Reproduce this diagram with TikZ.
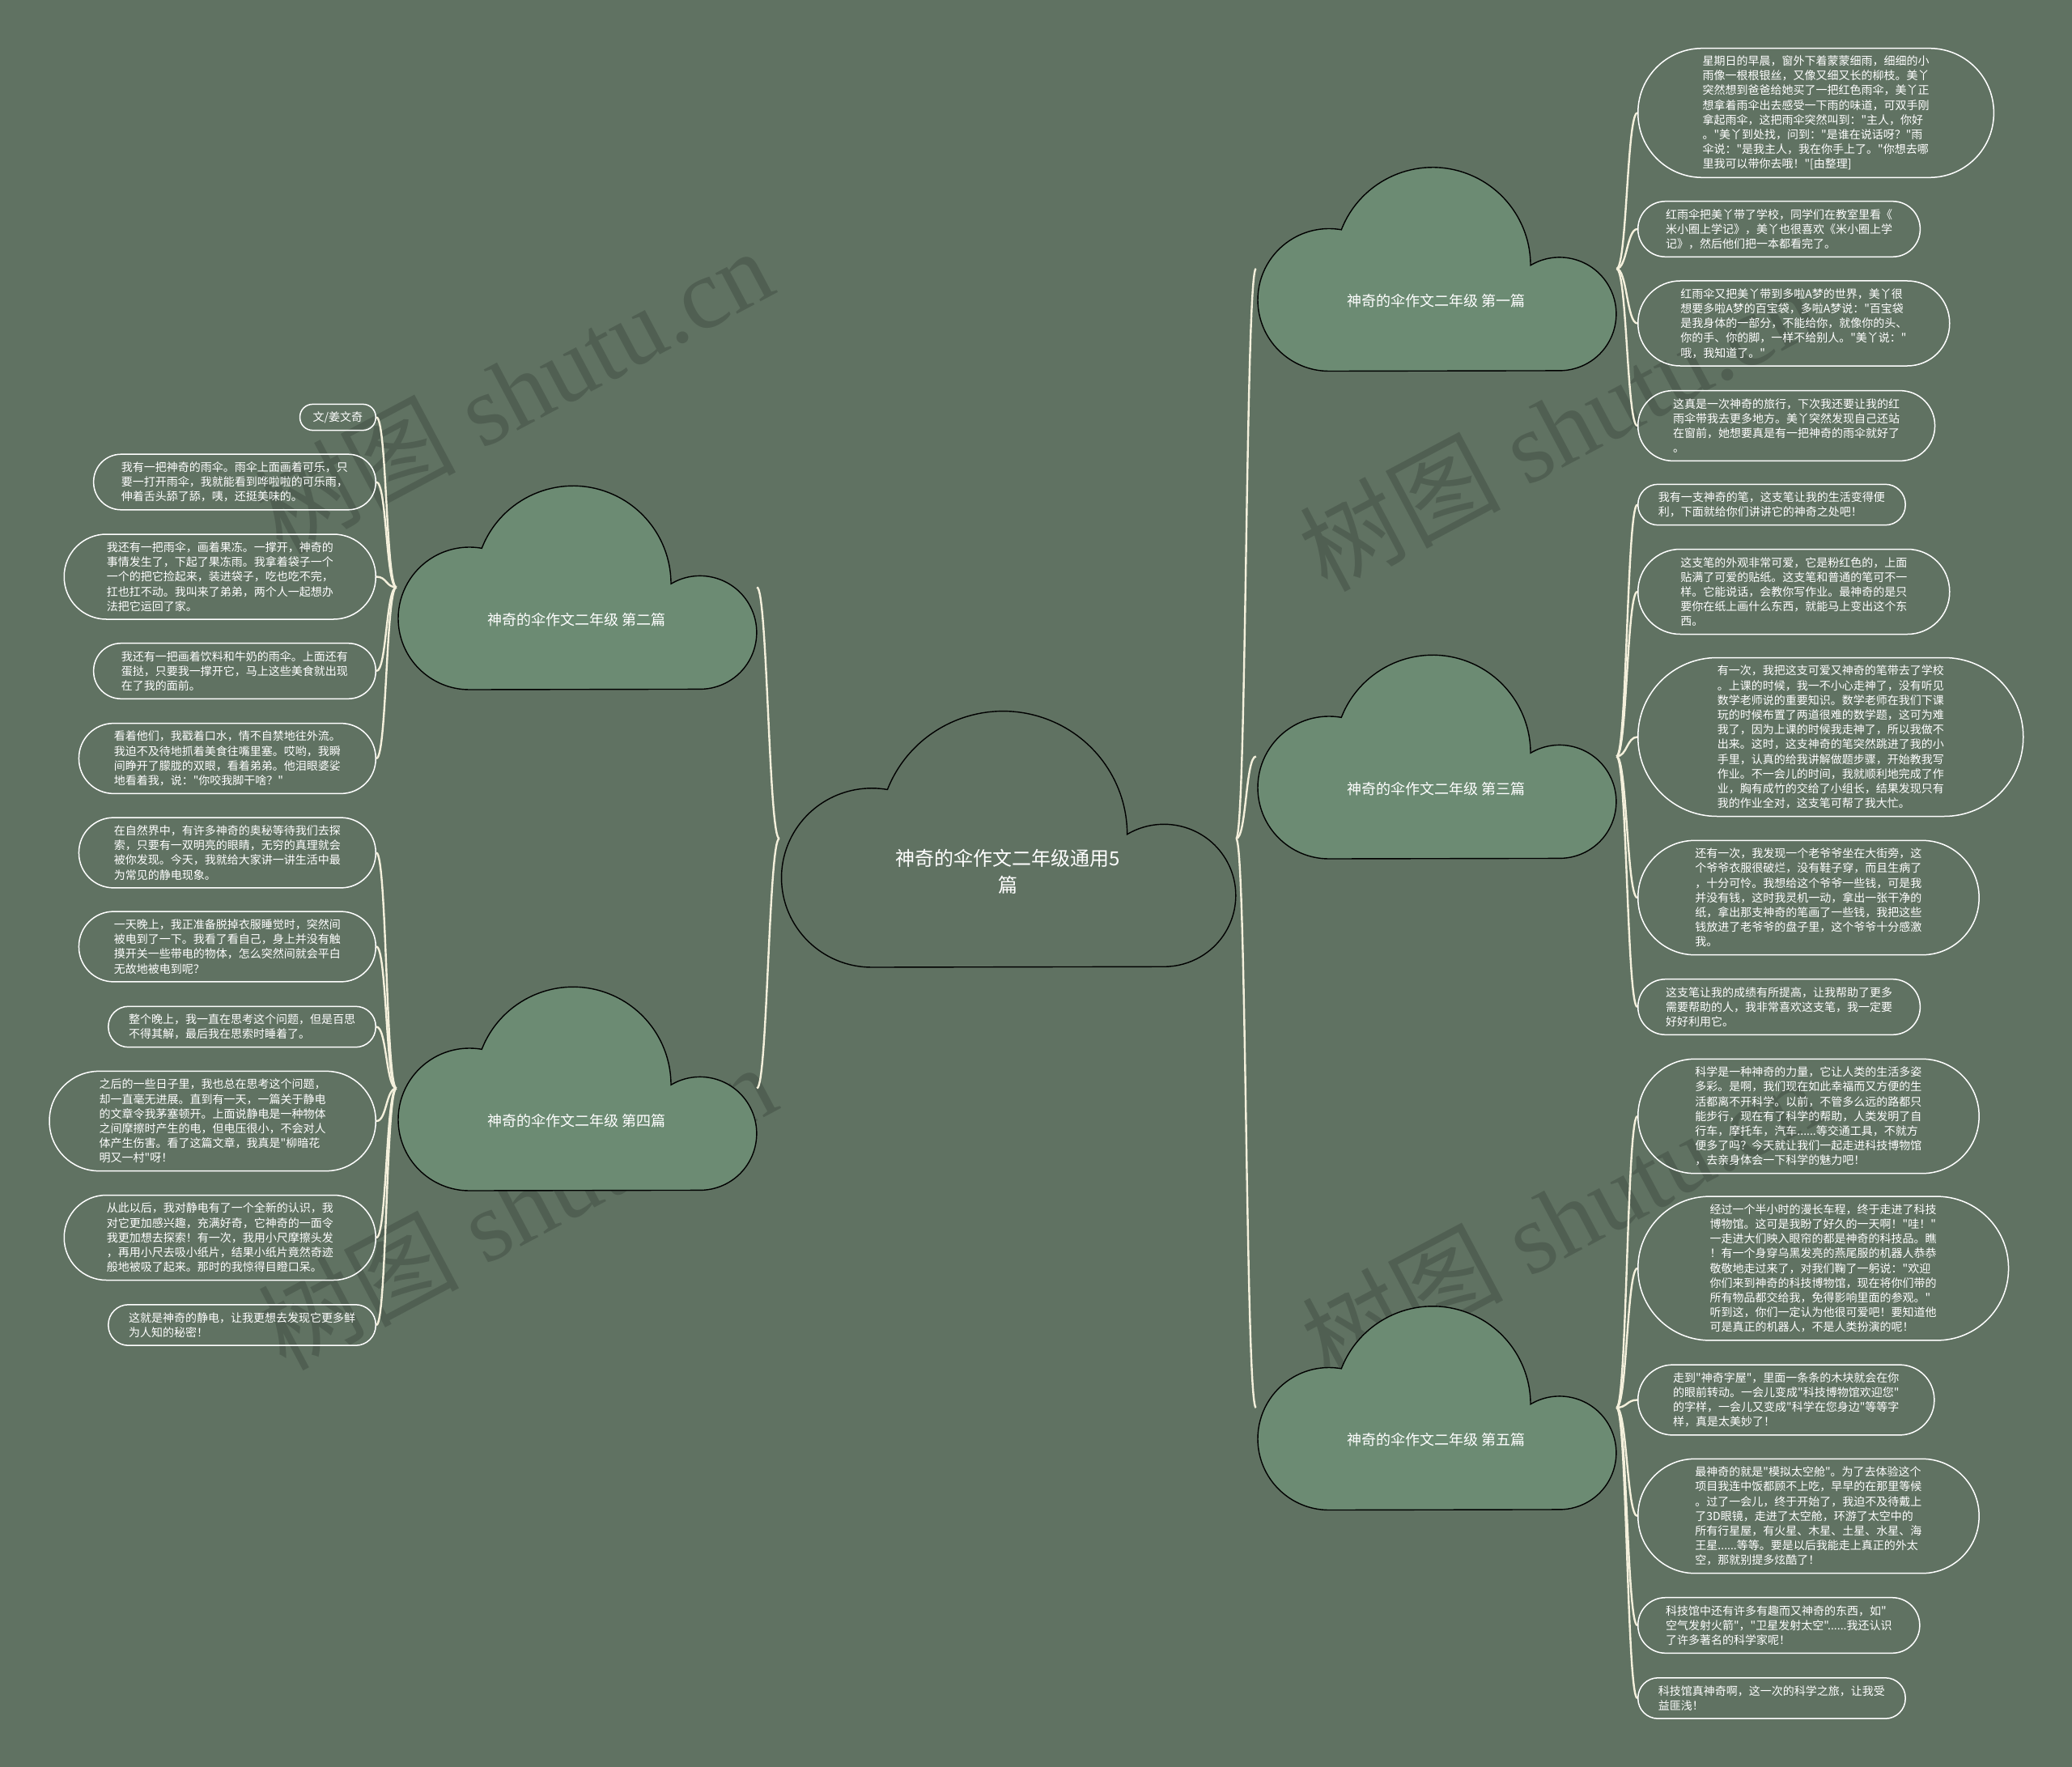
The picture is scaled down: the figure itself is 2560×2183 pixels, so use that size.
\documentclass[tikz,border=0pt]{standalone}
\usepackage{fontspec}
\setmainfont{Liberation Serif}
\newfontfamily\cjk{Noto Sans CJK SC}
\definecolor{bgc}{RGB}{96,114,98}
\definecolor{subfill}{RGB}{108,139,115}
\definecolor{connc}{RGB}{244,240,220}
\tikzset{
  leaf/.style={rectangle, draw=white, line width=1.5pt, text=white, align=left,
    minimum height={18.2*#1+14}, inner ysep=0pt, inner xsep={(18.2*#1+14)/2},
    rounded corners={(18.2*#1+14)/2-0.4},
    font=\cjk\fontsize{14}{18.2}\selectfont},
  link/.style={draw=connc, line width=2.4pt},
  ctitle/.style={text=white, font=\cjk\fontsize{18}{22}\selectfont, inner sep=0pt},
  mtitle/.style={text=white, font=\cjk\fontsize{24}{33}\selectfont, inner sep=0pt, align=center},
  cbox/.style={inner sep=0pt, minimum width=445pt, minimum height=253pt},
  wmark/.style={text=black, opacity=0.16, rotate=28, inner sep=0pt, font=\fontsize{124}{124}\selectfont},
  cloud/.pic={\path[pic actions] (-132.5,-126.5) arc[start angle=270,end angle=80,radius=88]
     arc[start angle=158.7,end angle=0,radius=121] arc[start angle=120.8,end angle=-90,radius=70] -- cycle;},
}
\newcommand\rlink[2]{\draw[link] (#1) .. controls +(13,0) and +(-13,0) .. (#2);}
\newcommand\llink[2]{\draw[link] (#1) .. controls +(-13,0) and +(13,0) .. (#2);}
\begin{document}
\begin{tikzpicture}[x=1pt,y=1pt]
\useasboundingbox (0,0) rectangle (2560,-2183);
\fill[bgc] (0,0) rectangle (2560,-2183);
% watermarks
\node[wmark] (wm1) at (634,-482) {{\cjk 树图} shutu.cn};
\node[wmark] (wm2) at (1925,-528) {{\cjk 树图} shutu.cn};
\node[wmark] (wm3) at (638,-1490) {{\cjk 树图} shutu.cn};
\node[wmark] (wm4) at (1928,-1505) {{\cjk 树图} shutu.cn};
% clouds
\node[cbox, minimum width=564pt, minimum height=318pt] (c0) at (1245,-1036) {};
\pic[draw=black, line width=1.4pt, fill=bgc, xscale=1.2674, yscale=1.2569] at (c0) {cloud};
\node[mtitle] (t0) at (1245,-1077) {神奇的伞作文二年级通用5\\篇};
\node[cbox] (c1) at (1774.5,-332) {};
\pic[draw=black, line width=1.4pt, fill=subfill] at (c1) {cloud};
\node[ctitle] (t1) at (1774.5,-372) {神奇的伞作文二年级 第一篇};
\node[cbox] (c3) at (1774.5,-934.5) {};
\pic[draw=black, line width=1.4pt, fill=subfill] at (c3) {cloud};
\node[ctitle] (t3) at (1774.5,-974.5) {神奇的伞作文二年级 第三篇};
\node[cbox] (c5) at (1774.5,-1739) {};
\pic[draw=black, line width=1.4pt, fill=subfill] at (c5) {cloud};
\node[ctitle] (t5) at (1774.5,-1779) {神奇的伞作文二年级 第五篇};
\node[cbox] (c2) at (712.5,-725.5) {};
\pic[draw=black, line width=1.4pt, fill=subfill] at (c2) {cloud};
\node[ctitle] (t2) at (712.5,-765.5) {神奇的伞作文二年级 第二篇};
\node[cbox] (c4) at (712.5,-1344.5) {};
\pic[draw=black, line width=1.4pt, fill=subfill] at (c4) {cloud};
\node[ctitle] (t4) at (712.5,-1384.5) {神奇的伞作文二年级 第四篇};
% right leaves
\node[leaf=8, anchor=west] (r1a) at (2023,-139.5) {星期日的早晨，窗外下着蒙蒙细雨，细细的小\\雨像一根根银丝，又像又细又长的柳枝。美丫\\突然想到爸爸给她买了一把红色雨伞，美丫正\\想拿着雨伞出去感受一下雨的味道，可双手刚\\拿起雨伞，这把雨伞突然叫到："主人，你好\\。"美丫到处找，问到："是谁在说话呀？"雨\\伞说："是我主人，我在你手上了。"你想去哪\\里我可以带你去哦！"[由整理]};
\node[leaf=3, anchor=west] (r1b) at (2023,-283) {红雨伞把美丫带了学校，同学们在教室里看《\\米小圈上学记》，美丫也很喜欢《米小圈上学\\记》，然后他们把一本都看完了。};
\node[leaf=5, anchor=west] (r1c) at (2023,-399.5) {红雨伞又把美丫带到多啦A梦的世界，美丫很\\想要多啦A梦的百宝袋，多啦A梦说："百宝袋\\是我身体的一部分，不能给你，就像你的头、\\你的手、你的脚，一样不给别人。"美丫说："\\哦，我知道了。"};
\node[leaf=4, anchor=west] (r1d) at (2023,-526) {这真是一次神奇的旅行，下次我还要让我的红\\雨伞带我去更多地方。美丫突然发现自己还站\\在窗前，她想要真是有一把神奇的雨伞就好了\\。};
\node[leaf=2, anchor=west] (r3a) at (2023,-623.5) {我有一支神奇的笔，这支笔让我的生活变得便\\利，下面就给你们讲讲它的神奇之处吧！};
\node[leaf=5, anchor=west] (r3b) at (2023,-731) {这支笔的外观非常可爱，它是粉红色的，上面\\贴满了可爱的贴纸。这支笔和普通的笔可不一\\样。它能说话，会教你写作业。最神奇的是只\\要你在纸上画什么东西，就能马上变出这个东\\西。};
\node[leaf=10, anchor=west] (r3c) at (2023,-910.5) {有一次，我把这支可爱又神奇的笔带去了学校\\。上课的时候，我一不小心走神了，没有听见\\数学老师说的重要知识。数学老师在我们下课\\玩的时候布置了两道很难的数学题，这可为难\\我了，因为上课的时候我走神了，所以我做不\\出来。这时，这支神奇的笔突然跳进了我的小\\手里，认真的给我讲解做题步骤，开始教我写\\作业。不一会儿的时间，我就顺利地完成了作\\业，胸有成竹的交给了小组长，结果发现只有\\我的作业全对，这支笔可帮了我大忙。};
\node[leaf=7, anchor=west] (r3d) at (2023,-1109) {还有一次，我发现一个老爷爷坐在大街旁，这\\个爷爷衣服很破烂，没有鞋子穿，而且生病了\\，十分可怜。我想给这个爷爷一些钱，可是我\\并没有钱，这时我灵机一动，拿出一张干净的\\纸，拿出那支神奇的笔画了一些钱，我把这些\\钱放进了老爷爷的盘子里，这个爷爷十分感激\\我。};
\node[leaf=3, anchor=west] (r3e) at (2023,-1244) {这支笔让我的成绩有所提高，让我帮助了更多\\需要帮助的人，我非常喜欢这支笔，我一定要\\好好利用它。};
\node[leaf=7, anchor=west] (r5a) at (2023,-1379) {科学是一种神奇的力量，它让人类的生活多姿\\多彩。是啊，我们现在如此幸福而又方便的生\\活都离不开科学。以前，不管多么远的路都只\\能步行，现在有了科学的帮助，人类发明了自\\行车，摩托车，汽车......等交通工具，不就方\\便多了吗？今天就让我们一起走进科技博物馆\\，去亲身体会一下科学的魅力吧！};
\node[leaf=9, anchor=west] (r5b) at (2023,-1567) {经过一个半小时的漫长车程，终于走进了科技\\博物馆。这可是我盼了好久的一天啊！"哇！"\\一走进大们映入眼帘的都是神奇的科技品。瞧\\！有一个身穿乌黑发亮的燕尾服的机器人恭恭\\敬敬地走过来了，对我们鞠了一躬说："欢迎\\你们来到神奇的科技博物馆，现在将你们带的\\所有物品都交给我，免得影响里面的参观。"\\听到这，你们一定认为他很可爱吧！要知道他\\可是真正的机器人，不是人类扮演的呢！};
\node[leaf=4, anchor=west] (r5c) at (2023,-1729.5) {走到"神奇字屋"，里面一条条的木块就会在你\\的眼前转动。一会儿变成"科技博物馆欢迎您"\\的字样，一会儿又变成"科学在您身边"等等字\\样，真是太美妙了！};
\node[leaf=7, anchor=west] (r5d) at (2023,-1873) {最神奇的就是"模拟太空舱"。为了去体验这个\\项目我连中饭都顾不上吃，早早的在那里等候\\。过了一会儿，终于开始了，我迫不及待戴上\\了3D眼镜，走进了太空舱，环游了太空中的\\所有行星屋，有火星、木星、土星、水星、海\\王星......等等。要是以后我能走上真正的外太\\空，那就别提多炫酷了！};
\node[leaf=3, anchor=west] (r5e) at (2023,-2008) {科技馆中还有许多有趣而又神奇的东西，如"\\空气发射火箭"，"卫星发射太空"......我还认识\\了许多著名的科学家呢！};
\node[leaf=2, anchor=west] (r5f) at (2023,-2098) {科技馆真神奇啊，这一次的科学之旅，让我受\\益匪浅！};
% left leaves
\node[leaf=1, anchor=east] (l2a) at (465,-515.5) {文/姜文奇};
\node[leaf=3, anchor=east] (l2b) at (465,-595.5) {我有一把神奇的雨伞。雨伞上面画着可乐，只\\要一打开雨伞，我就能看到哗啦啦的可乐雨，\\伸着舌头舔了舔，咦，还挺美味的。};
\node[leaf=5, anchor=east] (l2c) at (465,-712.5) {我还有一把雨伞，画着果冻。一撑开，神奇的\\事情发生了，下起了果冻雨。我拿着袋子一个\\一个的把它捡起来，装进袋子，吃也吃不完，\\扛也扛不动。我叫来了弟弟，两个人一起想办\\法把它运回了家。};
\node[leaf=3, anchor=east] (l2d) at (465,-829) {我还有一把画着饮料和牛奶的雨伞。上面还有\\蛋挞，只要我一撑开它，马上这些美食就出现\\在了我的面前。};
\node[leaf=4, anchor=east] (l2e) at (465,-937) {看着他们，我戳着口水，情不自禁地往外流。\\我迫不及待地抓着美食往嘴里塞。哎哟，我瞬\\间睁开了朦胧的双眼，看着弟弟。他泪眼婆娑\\地看着我，说："你咬我脚干啥？"};
\node[leaf=4, anchor=east] (l4a) at (465,-1053.5) {在自然界中，有许多神奇的奥秘等待我们去探\\索，只要有一双明亮的眼睛，无穷的真理就会\\被你发现。今天，我就给大家讲一讲生活中最\\为常见的静电现象。};
\node[leaf=4, anchor=east] (l4b) at (465,-1169.5) {一天晚上，我正准备脱掉衣服睡觉时，突然间\\被电到了一下。我看了看自己，身上并没有触\\摸开关一些带电的物体，怎么突然间就会平白\\无故地被电到呢？};
\node[leaf=2, anchor=east] (l4c) at (465,-1268.5) {整个晚上，我一直在思考这个问题，但是百思\\不得其解，最后我在思索时睡着了。};
\node[leaf=6, anchor=east] (l4d) at (465,-1385) {之后的一些日子里，我也总在思考这个问题，\\却一直毫无进展。直到有一天，一篇关于静电\\的文章令我茅塞顿开。上面说静电是一种物体\\之间摩擦时产生的电，但电压很小，不会对人\\体产生伤害。看了这篇文章，我真是"柳暗花\\明又一村"呀！};
\node[leaf=5, anchor=east] (l4e) at (465,-1529) {从此以后，我对静电有了一个全新的认识，我\\对它更加感兴趣，充满好奇，它神奇的一面令\\我更加想去探索！有一次，我用小尺摩擦头发\\，再用小尺去吸小纸片，结果小纸片竟然奇迹\\般地被吸了起来。那时的我惊得目瞪口呆。};
\node[leaf=2, anchor=east] (l4f) at (465,-1637) {这就是神奇的静电，让我更想去发现它更多鲜\\为人知的秘密！};
% connectors
\rlink{c0.east}{c1.west}
\rlink{c0.east}{c3.west}
\rlink{c0.east}{c5.west}
\llink{c0.west}{c2.east}
\llink{c0.west}{c4.east}
\rlink{c1.east}{r1a.west}
\rlink{c1.east}{r1b.west}
\rlink{c1.east}{r1c.west}
\rlink{c1.east}{r1d.west}
\rlink{c3.east}{r3a.west}
\rlink{c3.east}{r3b.west}
\rlink{c3.east}{r3c.west}
\rlink{c3.east}{r3d.west}
\rlink{c3.east}{r3e.west}
\rlink{c5.east}{r5a.west}
\rlink{c5.east}{r5b.west}
\rlink{c5.east}{r5c.west}
\rlink{c5.east}{r5d.west}
\rlink{c5.east}{r5e.west}
\rlink{c5.east}{r5f.west}
\llink{c2.west}{l2a.east}
\llink{c2.west}{l2b.east}
\llink{c2.west}{l2c.east}
\llink{c2.west}{l2d.east}
\llink{c2.west}{l2e.east}
\llink{c4.west}{l4a.east}
\llink{c4.west}{l4b.east}
\llink{c4.west}{l4c.east}
\llink{c4.west}{l4d.east}
\llink{c4.west}{l4e.east}
\llink{c4.west}{l4f.east}
\end{tikzpicture}
\end{document}
